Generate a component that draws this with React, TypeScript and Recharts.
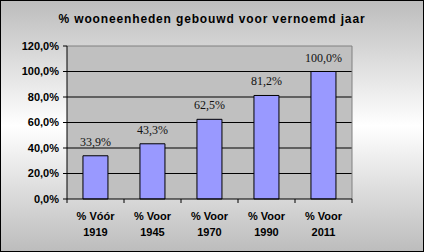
import React from 'react';
import { BarChart, Bar, XAxis, YAxis, CartesianGrid, LabelList } from 'recharts';

const categories = ['% Vóór|1919', '% Voor|1945', '% Voor|1970', '% Voor|1990', '% Voor|2011'];
const values = [33.9, 43.3, 62.5, 81.2, 100.0];
const yTicks = [0, 20, 40, 60, 80, 100, 120];
const title = '% wooneenheden gebouwd voor vernoemd jaar';

const data = categories.map((c, i) => ({ name: c, value: values[i] }));

const fmt = (v: number) => v.toFixed(1).replace('.', ',') + '%';

const AXIS_FONT = "'Liberation Sans', Arial, sans-serif";

const XTick = (props: any) => {
  const { x, y, payload, width, visibleTicksCount, index } = props;
  const band = width / visibleTicksCount;
  const lines = String(payload.value).split('|');
  const axisY = y - 8;
  return (
    <g>
      <line x1={x - band / 2} x2={x - band / 2} y1={axisY} y2={axisY + 4} stroke="#000" />
      {index === visibleTicksCount - 1 && (
        <line x1={x + band / 2} x2={x + band / 2} y1={axisY} y2={axisY + 4} stroke="#000" />
      )}
      {lines.map((l, i) => (
        <text key={i} x={x} y={axisY + 21 + i * 16} textAnchor="middle" fontFamily={AXIS_FONT} fontWeight="bold" fontSize={11} fill="#000">
          {l}
        </text>
      ))}
    </g>
  );
};

const ValueLabel = (props: any) => {
  const { x, y, width, value } = props;
  return (
    <text
      x={Number(x) + Number(width) / 2}
      y={Number(y) - 10}
      textAnchor="middle"
      fontFamily="'Liberation Serif', 'Times New Roman', serif"
      fontSize={12}
      fill="#111"
    >
      {fmt(Number(value))}
    </text>
  );
};

export default function App() {
  return (
    <div style={{ position: 'absolute', left: 0, top: 0, width: 424, height: 252, background: 'linear-gradient(to bottom, #bcbcbc 0%, #ffffff 50%, #bcbcbc 100%)' }}>
      <div style={{ position: 'absolute', left: 0, top: 12, width: 424, textAlign: 'center', fontFamily: AXIS_FONT, fontWeight: 'bold', fontSize: 12, letterSpacing: 0.85, color: '#000' }}>
        {title}
      </div>
      <BarChart width={424} height={252} data={data} margin={{ top: 46, right: 72, bottom: 0, left: 0 }} barCategoryGap="28%">
        <CartesianGrid
          fill="#c0c0c0"
          fillOpacity={1}
          stroke="#000"
          vertical={false}
          horizontalValues={[20, 40, 60, 80, 100]}
        />
        <CartesianGrid
          stroke="#808080"
          horizontalValues={[120]}
          verticalCoordinatesGenerator={({ offset }: any) => [offset.left + offset.width]}
        />
        <XAxis
          dataKey="name"
          height={53}
          axisLine={{ stroke: '#000' }}
          tickLine={false}
          tick={<XTick />}
          interval={0}
        />
        <YAxis
          width={67}
          domain={[0, 120]}
          ticks={yTicks}
          tickFormatter={fmt}
          axisLine={{ stroke: '#000' }}
          tickLine={{ stroke: '#000' }}
          tickSize={4}
          tickMargin={4}
          tick={{ fontFamily: AXIS_FONT, fontWeight: 'bold', fontSize: 11, fill: '#000' }}
          interval={0}
        />
        <Bar dataKey="value" fill="#9999ff" stroke="#000" strokeWidth={1} isAnimationActive={false}>
          <LabelList dataKey="value" content={<ValueLabel />} />
        </Bar>
      </BarChart>
      <div style={{ position: 'absolute', left: 0, top: 0, width: 424, height: 252, boxSizing: 'border-box', border: '1px solid #000', pointerEvents: 'none' }} />
    </div>
  );
}
